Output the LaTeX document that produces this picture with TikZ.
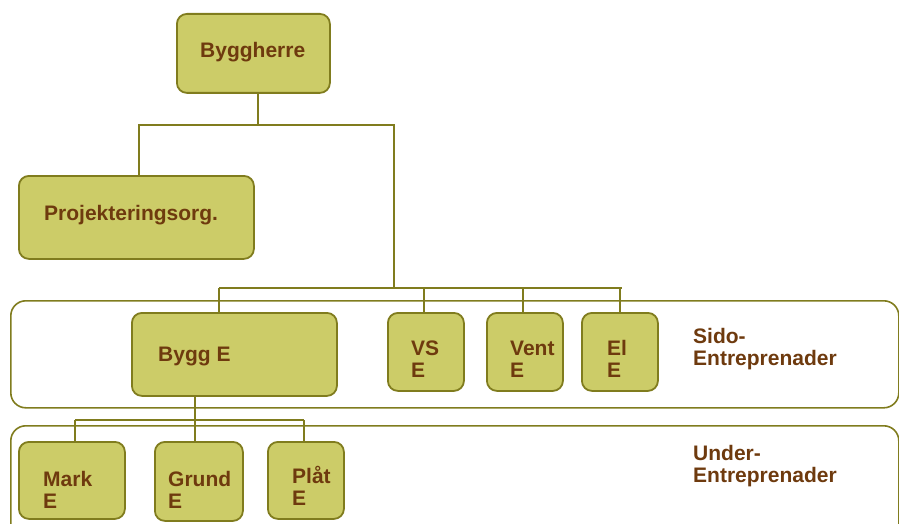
\documentclass[tikz,border=0pt]{standalone}
\usepackage{fontspec}
\setmainfont{Liberation Sans}
\definecolor{boxfill}{RGB}{204,204,104}
\definecolor{boxline}{RGB}{128,124,30}
\definecolor{txt}{RGB}{110,58,14}
\begin{document}
\begin{tikzpicture}[x=1pt,y=-1pt,
  box/.style={draw=boxline,fill=boxfill,rounded corners=10pt,line width=1.8pt,inner sep=0pt,anchor=north west},
  group/.style={draw=boxline,rounded corners=15pt,line width=1.6pt,inner sep=0pt,anchor=north west},
  lbl/.style={font=\fontsize{21}{22}\selectfont\bfseries,text=txt,inner sep=0pt,anchor=base west,align=left},
  conn/.style={draw=boxline,line width=1.8pt}]
\useasboundingbox (0,0) rectangle (899,524);
% group containers
\node[group,minimum width=888pt,minimum height=107pt] (sido) at (10,300) {};
\node[group,minimum width=888pt,minimum height=120pt] (under) at (10,425) {};
% boxes
\node[box,minimum width=153pt,minimum height=79pt] (bh) at (176,13) {};
\node[box,minimum width=235pt,minimum height=83pt] (proj) at (18,175) {};
\node[box,minimum width=205pt,minimum height=83pt] (bygg) at (131,312) {};
\node[box,minimum width=76pt,minimum height=78pt] (vs) at (387,312) {};
\node[box,minimum width=76pt,minimum height=78pt] (vent) at (486,312) {};
\node[box,minimum width=76pt,minimum height=78pt] (el) at (581,312) {};
\node[box,minimum width=106pt,minimum height=77pt] (mark) at (18,441) {};
\node[box,minimum width=88pt,minimum height=79pt] (grund) at (154,441) {};
\node[box,minimum width=76pt,minimum height=77pt] (plat) at (267,441) {};
% labels (base = baseline of last line)
\node[lbl] (tbh) at (200,58) {Byggherre};
\node[lbl] (tproj) at (44,220) {Projekteringsorg.};
\node[lbl] (tbygg) at (158,361) {Bygg E};
\node[lbl] (tvs) at (411,377) {VS\\E};
\node[lbl] (tvent) at (510,377) {Vent\\E};
\node[lbl] (tel) at (607,377) {El\\E};
\node[lbl] (tsido) at (693,365) {Sido-\\Entreprenader};
\node[lbl] (tunder) at (693,482) {Under-\\Entreprenader};
\node[lbl] (tmark) at (43,508) {Mark\\E};
\node[lbl] (tgrund) at (168,508) {Grund\\E};
\node[lbl] (tplat) at (292,505) {Plåt\\E};
% connectors
\coordinate (j1) at (258,125);
\coordinate (j2) at (394,288);
\coordinate (j3) at (195,420);
\draw[conn] (bh.south -| j1) -- (j1);
\draw[conn] (139,125 |- proj.north) -- (139,125) -- (394,125) -- (j2);
\draw[conn] (219,288) -- (622,288);
\draw[conn] (219,288) -- (219,288 |- bygg.north);
\draw[conn] (424,288) -- (424,288 |- vs.north);
\draw[conn] (523,288) -- (523,288 |- vent.north);
\draw[conn] (620,288) -- (620,288 |- el.north);
\draw[conn] (bygg.south -| j3) -- (j3);
\draw[conn] (75,420) -- (304,420);
\draw[conn] (75,420) -- (75,420 |- mark.north);
\draw[conn] (195,420) -- (195,420 |- grund.north);
\draw[conn] (304,420) -- (304,420 |- plat.north);
\end{tikzpicture}
\end{document}
